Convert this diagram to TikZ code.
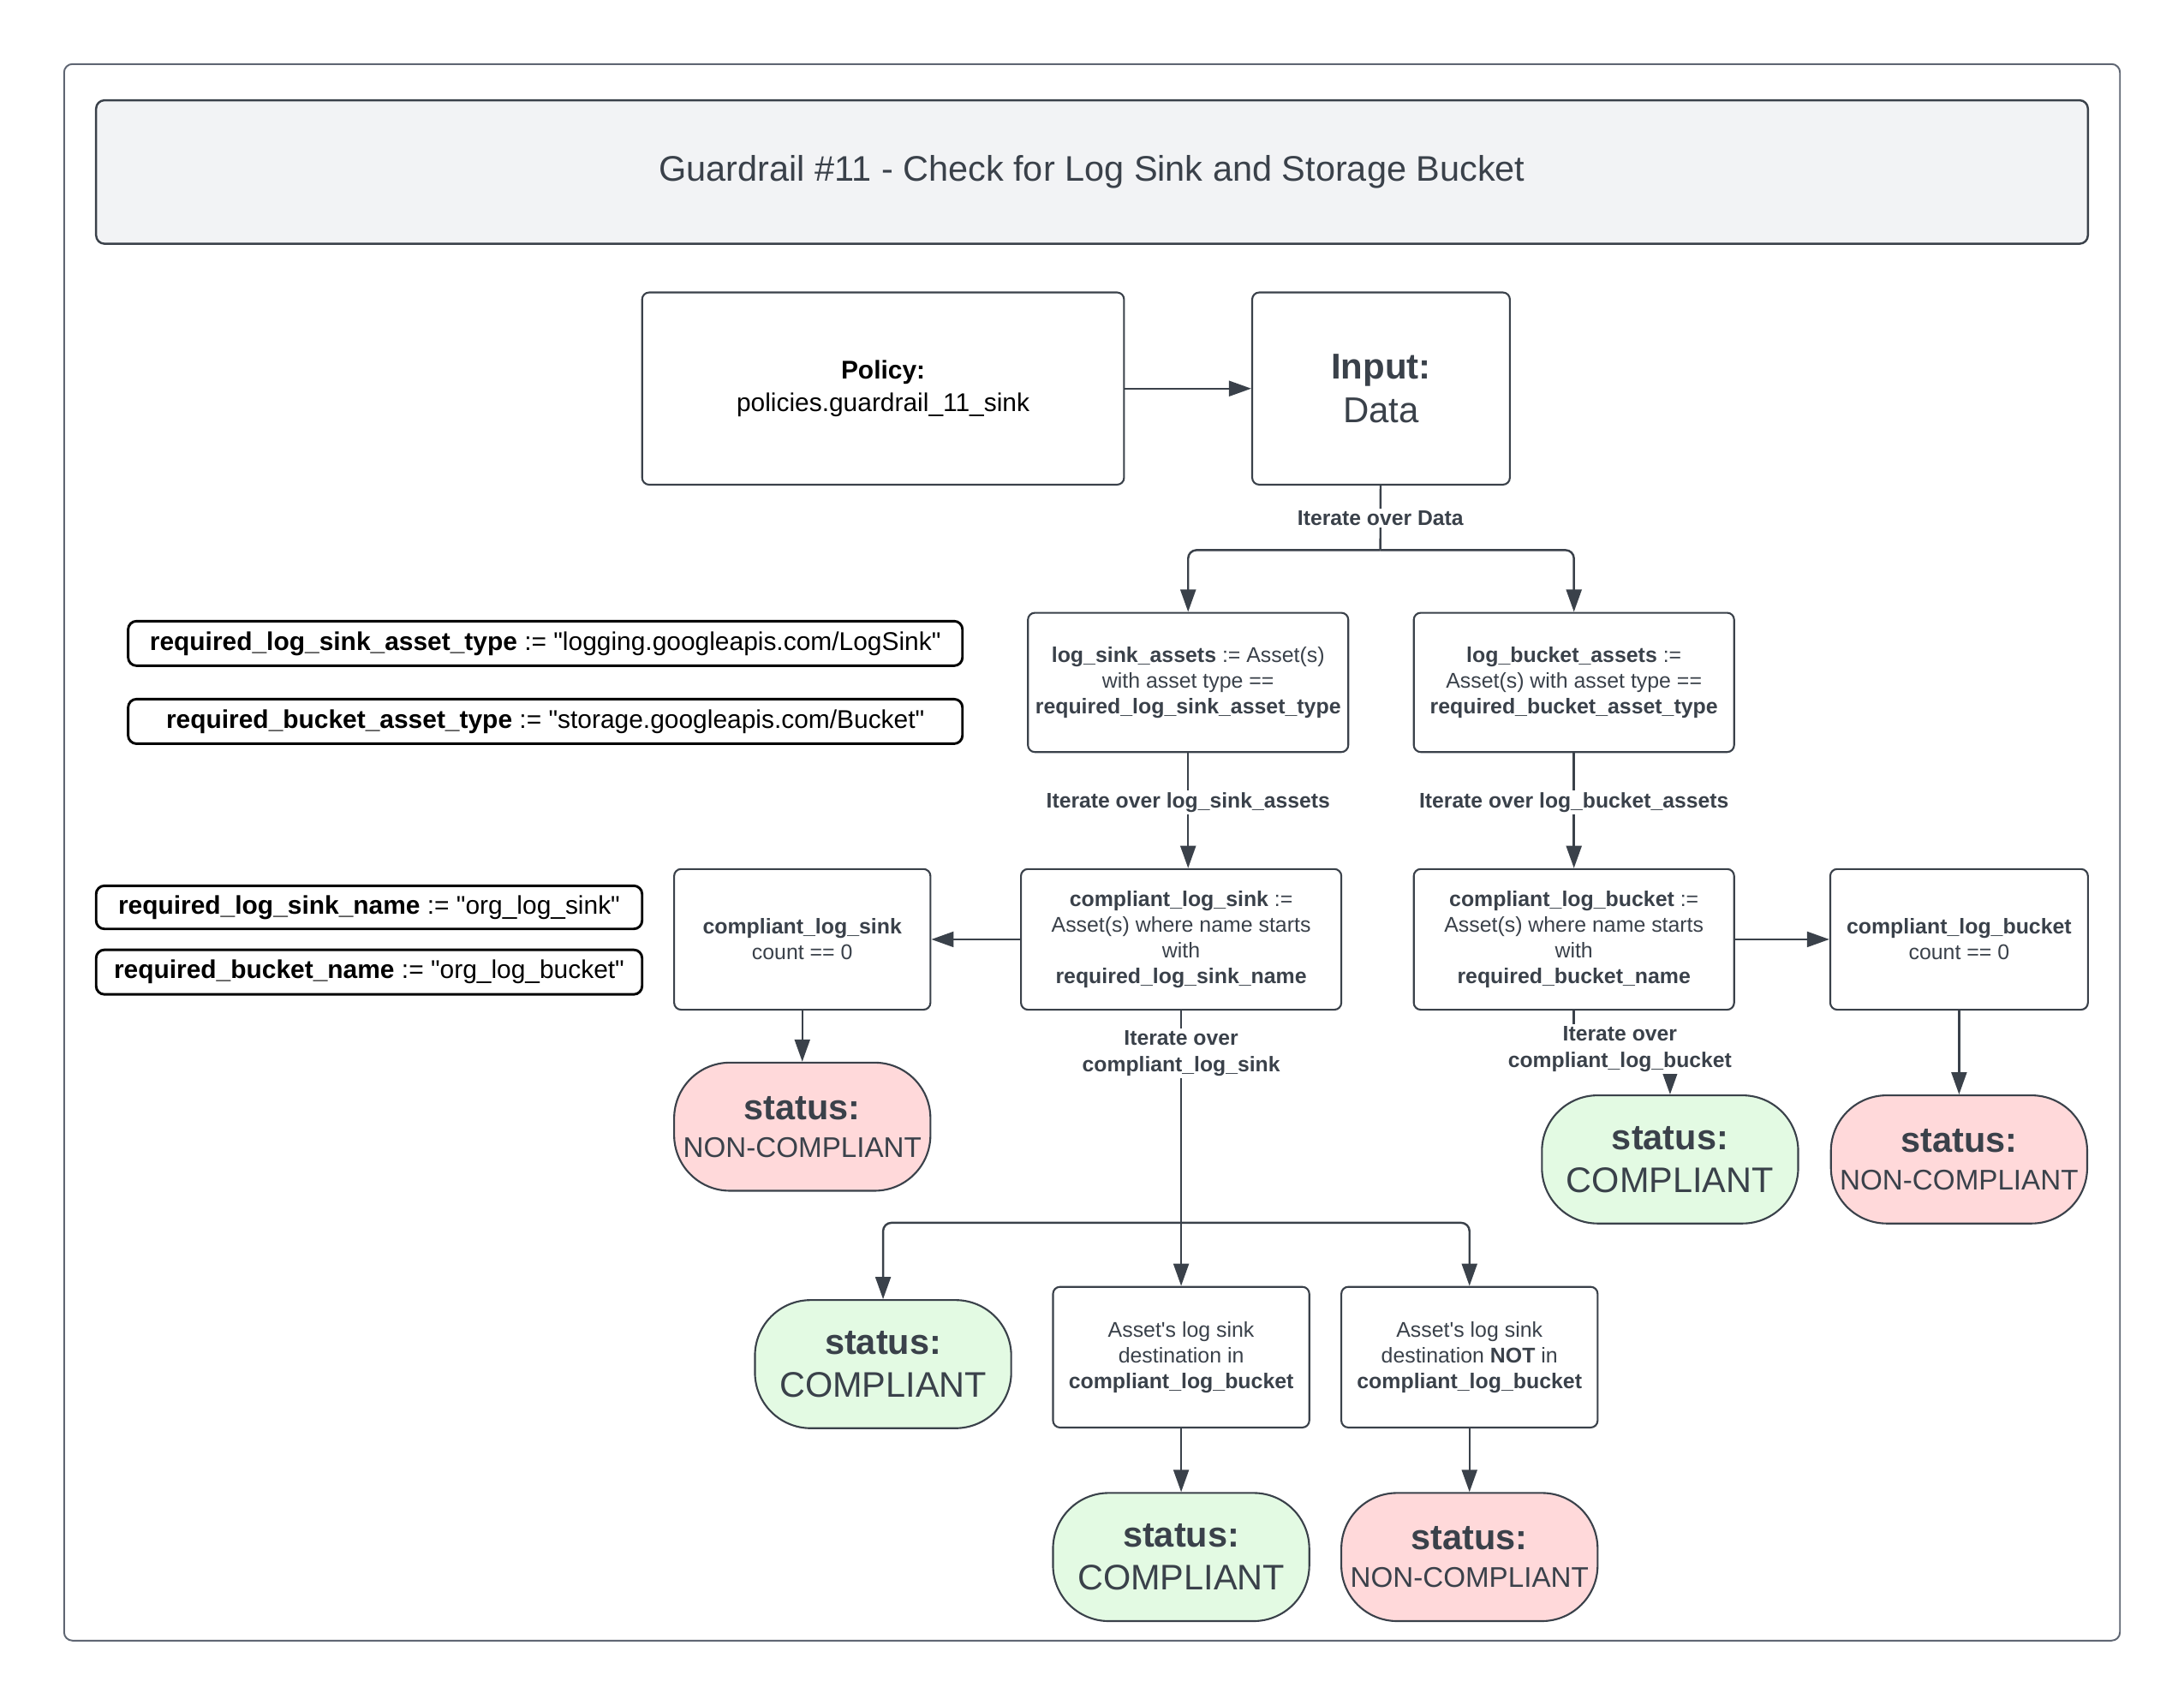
\documentclass[tikz,border=0pt]{standalone}
\usepackage{fontspec}
\setmainfont{Liberation Sans}[Ligatures=TeXOff]
\usetikzlibrary{arrows.meta}
\definecolor{ink}{HTML}{3A414A}
\definecolor{framegray}{HTML}{5F6673}
\definecolor{titlefill}{HTML}{F2F3F5}
\definecolor{okfill}{HTML}{E3FAE3}
\definecolor{badfill}{HTML}{FFD9DA}
\newcommand{\fsz}[2]{\fontsize{#1}{#2}\selectfont}

\begin{document}
\begin{tikzpicture}[x=1pt, y=-1pt,
    box/.style={draw=ink, line width=1.3pt, rounded corners=5pt, fill=white, text=ink, align=center, inner sep=0pt, font=\fsz{15.3}{18.5}},
    var/.style={draw=black, line width=1.8pt, rounded corners=6pt, fill=white, text=black, inner sep=0pt, font=\fsz{18.4}{22}},
    status/.style={draw=ink, line width=1.3pt, rounded corners=40pt, text=ink, align=center, minimum width=184pt, minimum height=92pt, inner sep=0pt, font=\fsz{25.5}{31}},
    ok/.style={status, fill=okfill},
    bad/.style={status, fill=badfill, font=\fsz{25.5}{27}},
    lbl/.style={fill=white, text=ink, align=center, inner sep=1.5pt, font=\bfseries\fsz{15.2}{19}},
    n/.style={draw=ink, line width=1.5pt, -{Triangle[length=16pt,width=11pt]}},
    l/.style={draw=ink, line width=1.5pt}]
    \useasboundingbox (0,0) rectangle (1568,1224);
    % frame and title
    \draw[framegray, line width=1.2pt, rounded corners=6pt] (46,46) rectangle (1522,1178);
    \node[draw=ink, line width=1.5pt, rounded corners=6pt, fill=titlefill, text=ink, minimum width=1430pt, minimum height=103pt, font=\fsz{25.5}{30}] (title) at (784,123.5) {Guardrail \#11 - Check for Log Sink and Storage Bucket};

    % nodes
    \node[box, text=black, minimum width=346pt, minimum height=138pt, font=\fsz{18.4}{23}] (policy) at (634,279) {\textbf{Policy:}\\policies.guardrail\_11\_sink};
    \node[box, minimum width=185pt, minimum height=138pt, font=\fsz{25.8}{31}] (input) at (991.5,279) {\textbf{Input:}\\Data};

    \node[var, minimum width=599pt, minimum height=32pt] (sinktype) at (391.5,462) {\textbf{required\_log\_sink\_asset\_type} := "logging.googleapis.com/LogSink"};
    \node[var, minimum width=599pt, minimum height=32pt] (buckettype) at (391.5,518) {\textbf{required\_bucket\_asset\_type} := "storage.googleapis.com/Bucket"};
    \node[var, minimum width=392pt, minimum height=31pt] (sinkname) at (265,651.5) {\textbf{required\_log\_sink\_name} := "org\_log\_sink"};
    \node[var, minimum width=392pt, minimum height=32pt] (bucketname) at (265,698) {\textbf{required\_bucket\_name} := "org\_log\_bucket"};

    \node[box, minimum width=230pt, minimum height=100pt] (sinkassets) at (853,490) {\textbf{log\_sink\_assets} := Asset(s)\\with asset type ==\\\textbf{required\_log\_sink\_asset\_type}};
    \node[box, minimum width=230pt, minimum height=100pt] (bucketassets) at (1130,490) {\textbf{log\_bucket\_assets} :=\\Asset(s) with asset type ==\\\textbf{required\_bucket\_asset\_type}};

    \node[box, minimum width=230pt, minimum height=101pt] (compsink) at (848,674.5) {\textbf{compliant\_log\_sink} :=\\Asset(s) where name starts\\with\\\textbf{required\_log\_sink\_name}};
    \node[box, minimum width=230pt, minimum height=101pt] (compbucket) at (1130,674.5) {\textbf{compliant\_log\_bucket} :=\\Asset(s) where name starts\\with\\\textbf{required\_bucket\_name}};
    \node[box, minimum width=184pt, minimum height=101pt] (sinkcount) at (576,674.5) {\textbf{compliant\_log\_sink}\\count == 0};
    \node[box, minimum width=185pt, minimum height=101pt] (bucketcount) at (1406.5,674.5) {\textbf{compliant\_log\_bucket}\\count == 0};

    \node[bad] (sinkbad) at (576,809) {\textbf{status:}\\{\fsz{20.4}{27}NON-COMPLIANT}};
    \node[ok] (bucketok) at (1199,832.5) {\textbf{status:}\\COMPLIANT};
    \node[bad] (bucketbad) at (1406.5,832.5) {\textbf{status:}\\{\fsz{20.4}{27}NON-COMPLIANT}};

    \node[ok] (sinkok) at (634,979.5) {\textbf{status:}\\COMPLIANT};
    \node[box, minimum width=184pt, minimum height=101pt] (destin) at (848,974.5) {Asset's log sink\\destination in\\\textbf{compliant\_log\_bucket}};
    \node[box, minimum width=184pt, minimum height=101pt] (destnot) at (1055,974.5) {Asset's log sink\\destination \textbf{NOT} in\\\textbf{compliant\_log\_bucket}};
    \node[ok] (destok) at (848,1118) {\textbf{status:}\\COMPLIANT};
    \node[bad] (destbad) at (1055,1118) {\textbf{status:}\\{\fsz{20.4}{27}NON-COMPLIANT}};

    \coordinate (split1) at (991,395);
    \coordinate (split2) at (848,878);

    % edges
    \draw[n] (policy) -- (input);
    \draw[l] (input) -- (split1) node[lbl, midway] (itdata) {Iterate over Data};
    \draw[n, rounded corners=6pt] (split1) -| (sinkassets);
    \draw[n, rounded corners=6pt] (split1) -| (bucketassets);

    \draw[n] (sinkassets) -- (sinkassets.south |- compsink.north) node[lbl, pos=0.43] (itsink) {Iterate over log\_sink\_assets};
    \draw[n] (bucketassets) -- (compbucket) node[lbl, pos=0.43] (itbucket) {Iterate over log\_bucket\_assets};

    \draw[n] (compsink) -- (sinkcount);
    \draw[n] (compbucket) -- (bucketcount);
    \draw[n] (sinkcount) -- (sinkbad);
    \draw[n] (bucketcount) -- (bucketbad);

    \draw[n] (compbucket.south) -- ++(0,29) -| (bucketok);
    \node[lbl] (itcompbucket) at (1163,753.5) {Iterate over\\compliant\_log\_bucket};

    \draw[l] (compsink) -- (split2) node[lbl, pos=0.2] (itcompsink) {Iterate over\\compliant\_log\_sink};
    \draw[n, rounded corners=6pt] (split2) -| (sinkok);
    \draw[n] (split2) -- (destin);
    \draw[n, rounded corners=6pt] (split2) -| (destnot);

    \draw[n] (destin) -- (destok);
    \draw[n] (destnot) -- (destbad);
\end{tikzpicture}
\end{document}
